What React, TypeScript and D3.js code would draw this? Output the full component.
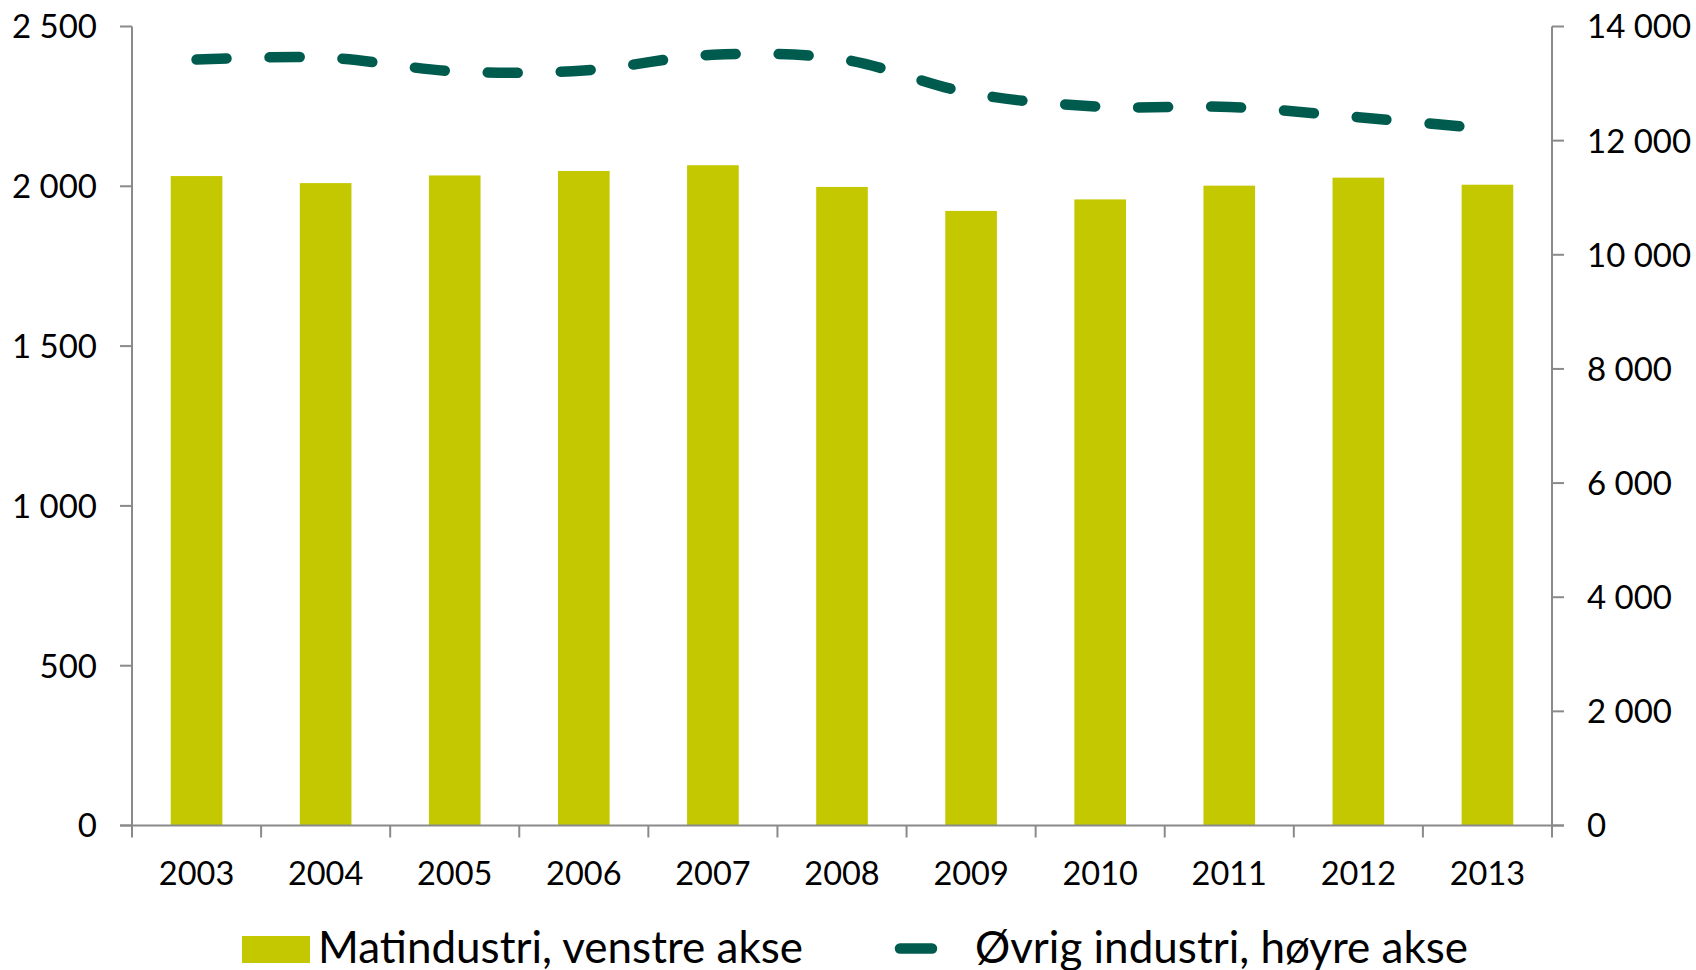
import React from "react";
import * as d3 from "d3";

const years = ["2003", "2004", "2005", "2006", "2007", "2008", "2009", "2010", "2011", "2012", "2013"];
const matindustri = [2032, 2010, 2034, 2048, 2066, 1998, 1923, 1959, 2002, 2027, 2005];
const ovrigIndustri = [13420, 13455, 13215, 13230, 13505, 13425, 12830, 12595, 12590, 12410, 12205];
const leftTicks = [0, 500, 1000, 1500, 2000, 2500];
const rightTicks = [0, 2000, 4000, 6000, 8000, 10000, 12000, 14000];
const legendLabels = ["Matindustri, venstre akse", "Øvrig industri, høyre akse"];

const W = 1696;
const H = 970;
const left = 132;
const right = 1552;
const top = 26.5;
const bottom = 825.5;
const BAR = "#C4C800";
const LINE = "#005B4F";
const AXIS = "#8A8A8A";
const FONT = "Lato, 'Open Sans', sans-serif";

const fmt = (v: number) => d3.format(",")(v).replace(/,/g, " ");

export default function App() {
  const x = d3.scaleBand<string>().domain(years).range([left, right]).paddingInner(0.6).paddingOuter(0.3);
  const yL = d3.scaleLinear().domain([0, 2500]).range([bottom, top]);
  const yR = d3.scaleLinear().domain([0, 14000]).range([bottom, top]);
  const step = x.step();
  const cx = (y: string) => (x(y) as number) + x.bandwidth() / 2;
  const line = d3
    .line<number>()
    .x((_, i) => cx(years[i]))
    .y((d) => yR(d))
    .curve(d3.curveCatmullRom.alpha(0.5));
  const boundaries = d3.range(years.length + 1).map((i) => left + i * step);

  return (
    <svg width={W} height={H} style={{ position: "absolute", left: 0, top: 0, background: "#fff" }} fontFamily={FONT}>
      {/* bars */}
      {matindustri.map((v, i) => (
        <rect key={years[i]} x={x(years[i])} y={yL(v)} width={x.bandwidth()} height={bottom - yL(v)} fill={BAR} />
      ))}
      {/* axes */}
      <line x1={left} x2={left} y1={top} y2={bottom} stroke={AXIS} strokeWidth={2} />
      <line x1={right} x2={right} y1={top} y2={bottom} stroke={AXIS} strokeWidth={2} />
      <line x1={left - 12} x2={right + 12} y1={bottom} y2={bottom} stroke={AXIS} strokeWidth={2} />
      {leftTicks.map((t) => (
        <g key={"l" + t}>
          <line x1={left - 12} x2={left} y1={yL(t)} y2={yL(t)} stroke={AXIS} strokeWidth={2} />
          <text x={97} y={yL(t)} dy="0.36em" textAnchor="end" fontSize={33} fill="#000">
            {fmt(t)}
          </text>
        </g>
      ))}
      {rightTicks.map((t) => (
        <g key={"r" + t}>
          <line x1={right} x2={right + 12} y1={yR(t)} y2={yR(t)} stroke={AXIS} strokeWidth={2} />
          <text x={1587} y={yR(t)} dy="0.36em" textAnchor="start" fontSize={33} fill="#000">
            {fmt(t)}
          </text>
        </g>
      ))}
      {boundaries.map((b, i) => (
        <line key={"b" + i} x1={b} x2={b} y1={bottom} y2={bottom + 12} stroke={AXIS} strokeWidth={2} />
      ))}
      {years.map((y) => (
        <text key={"x" + y} x={cx(y)} y={885} textAnchor="middle" fontSize={32.5} fill="#000">
          {y}
        </text>
      ))}
      {/* line */}
      <path
        d={line(ovrigIndustri) || ""}
        fill="none"
        stroke={LINE}
        strokeWidth={10.5}
        strokeLinecap="round"
        strokeDasharray="30 43"
      />
      {/* legend */}
      <rect x={242} y={936} width={68} height={27} fill={BAR} />
      <text x={318} y={963} fontSize={44} fill="#000">
        {legendLabels[0]}
      </text>
      <line x1={900} x2={932} y1={948.5} y2={948.5} stroke={LINE} strokeWidth={10.5} strokeLinecap="round" />
      <text x={975} y={963} fontSize={44} fill="#000">
        {legendLabels[1]}
      </text>
    </svg>
  );
}
